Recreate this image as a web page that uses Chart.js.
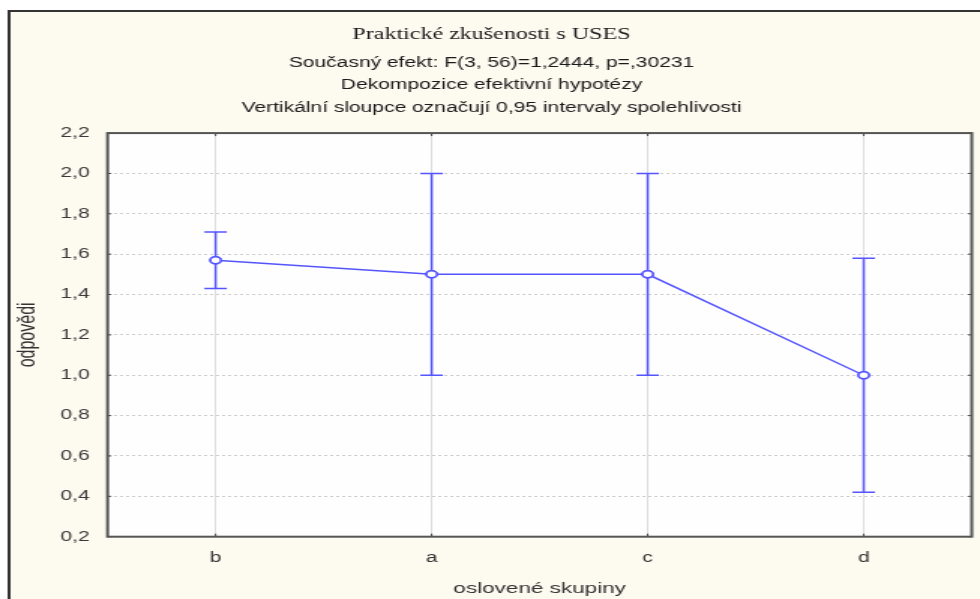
<!DOCTYPE html>
<html>
<head>
<meta charset="utf-8">
<script src="https://cdn.jsdelivr.net/npm/chart.js@4"></script>
<style>
  html, body { margin: 0; padding: 0; background: #fff; overflow: hidden; }
  /* původní obrázek je vodorovně roztažený, proto se plátno natahuje */
  #myChart { display: block; width: 980px; height: 599px; }
</style>
</head>
<body>
<canvas id="myChart" width="653" height="599" style="width:980px;height:599px"></canvas>
<script>
const groups = ['b', 'a', 'c', 'd'];
const means = [1.57, 1.50, 1.50, 1.00];
const ciLow = [1.43, 1.00, 1.00, 0.42];
const ciHigh = [1.71, 2.00, 2.00, 1.58];

const blue = 'rgb(85, 85, 255)';

// pozadí a rám kolem grafu
const frame = {
    id: 'frame',
    beforeDraw(chart) {
        const c = chart.ctx;
        c.save();
        c.fillStyle = '#fdfaf0';
        c.fillRect(6, 11, chart.width - 6, chart.height - 11);
        c.strokeStyle = '#333';
        c.lineWidth = 2;
        c.beginPath();
        c.moveTo(6, chart.height);
        c.lineTo(6, 11);
        c.lineTo(chart.width, 11);
        c.stroke();
        const a = chart.chartArea;
        c.fillStyle = '#fefefe';
        c.fillRect(a.left, a.top, a.right - a.left, a.bottom - a.top);
        c.restore();
    },
    afterDraw(chart) {
        const c = chart.ctx;
        const a = chart.chartArea;
        const x = chart.scales.x, y = chart.scales.y;
        c.save();
        c.strokeStyle = '#444';
        c.lineWidth = 1;
        c.beginPath();
        y.ticks.forEach(t => {
            const py = y.getPixelForValue(t.value);
            c.moveTo(a.left, py); c.lineTo(a.left + 2.5, py);
            c.moveTo(a.right, py); c.lineTo(a.right - 2.5, py);
        });
        groups.forEach((g, i) => {
            const px = x.getPixelForValue(i);
            c.moveTo(px, a.bottom); c.lineTo(px, a.bottom - 3);
            c.moveTo(px, a.top); c.lineTo(px, a.top + 3);
        });
        c.stroke();
        c.strokeStyle = '#555';
        c.lineWidth = 2;
        c.strokeRect(a.left, a.top, a.right - a.left, a.bottom - a.top);
        c.restore();
    }
};

// vertikální sloupce intervalů spolehlivosti
const errorBars = {
    id: 'errorBars',
    afterDatasetsDraw(chart) {
        const c = chart.ctx;
        const x = chart.scales.x, y = chart.scales.y;
        c.save();
        c.strokeStyle = blue;
        c.lineWidth = 1.5;
        groups.forEach((g, i) => {
            const px = x.getPixelForValue(i);
            const top = y.getPixelForValue(ciHigh[i]);
            const bot = y.getPixelForValue(ciLow[i]);
            c.beginPath();
            c.moveTo(px, top); c.lineTo(px, bot);
            c.moveTo(px - 7.5, top); c.lineTo(px + 7.5, top);
            c.moveTo(px - 7.5, bot); c.lineTo(px + 7.5, bot);
            c.stroke();
        });
        c.restore();
        // body znovu nahoru
        chart.getDatasetMeta(0).data.forEach(p => p.draw(c));
    }
};

new Chart(document.getElementById('myChart'), {
    type: 'line',
    data: {
        labels: groups,
        datasets: [{
            data: means,
            borderColor: blue,
            borderWidth: 1.5,
            pointRadius: 3.5,
            pointBorderWidth: 1.5,
            pointBackgroundColor: '#fff',
            pointBorderColor: blue,
            tension: 0
        }]
    },
    options: {
        responsive: false,
        devicePixelRatio: 1,
        animation: false,
        layout: { padding: { left: 5, right: 3, top: 0, bottom: 1.5 } },
        plugins: {
            legend: { display: false },
            tooltip: { enabled: false },
            title: {
                display: true,
                text: 'Praktické zkušenosti s USES',
                color: '#1a1a1a',
                font: { family: 'Liberation Serif', size: 16, weight: 'normal' },
                padding: { top: 25, bottom: 7 }
            },
            subtitle: {
                display: true,
                text: [
                    'Současný efekt: F(3, 56)=1,2444, p=,30231',
                    'Dekompozice efektivní hypotézy',
                    'Vertikální sloupce označují 0,95 intervaly spolehlivosti'
                ],
                color: '#1a1a1a',
                font: { family: 'Liberation Sans', size: 14, lineHeight: 1.64 },
                padding: { top: 0, bottom: 13 }
            }
        },
        scales: {
            x: {
                offset: true,
                grid: { color: '#ddd', lineWidth: 1, drawTicks: false, offset: false },
                border: { display: false },
                ticks: { color: '#333', font: { family: 'Liberation Sans', size: 14 }, padding: 13 },
                title: {
                    display: true,
                    text: 'oslovené skupiny',
                    color: '#333',
                    font: { family: 'Liberation Sans', size: 15 },
                    padding: { top: 0, bottom: 0 }
                }
            },
            y: {
                min: 0.2,
                max: 2.2,
                ticks: {
                    stepSize: 0.2,
                    color: '#3a3a3a',
                    font: { family: 'Liberation Sans', size: 14 },
                    padding: 12,
                    callback: v => v.toFixed(1).replace('.', ',')
                },
                grid: { color: '#ccc', lineWidth: 1, drawTicks: false },
                border: { display: false, dash: [2, 2] },
                title: {
                    display: true,
                    text: 'odpovědi',
                    color: '#333',
                    font: { family: 'Liberation Sans', size: 16 },
                    padding: { top: 4, bottom: 0 }
                }
            }
        }
    },
    plugins: [frame, errorBars]
});
</script>
</body>
</html>
